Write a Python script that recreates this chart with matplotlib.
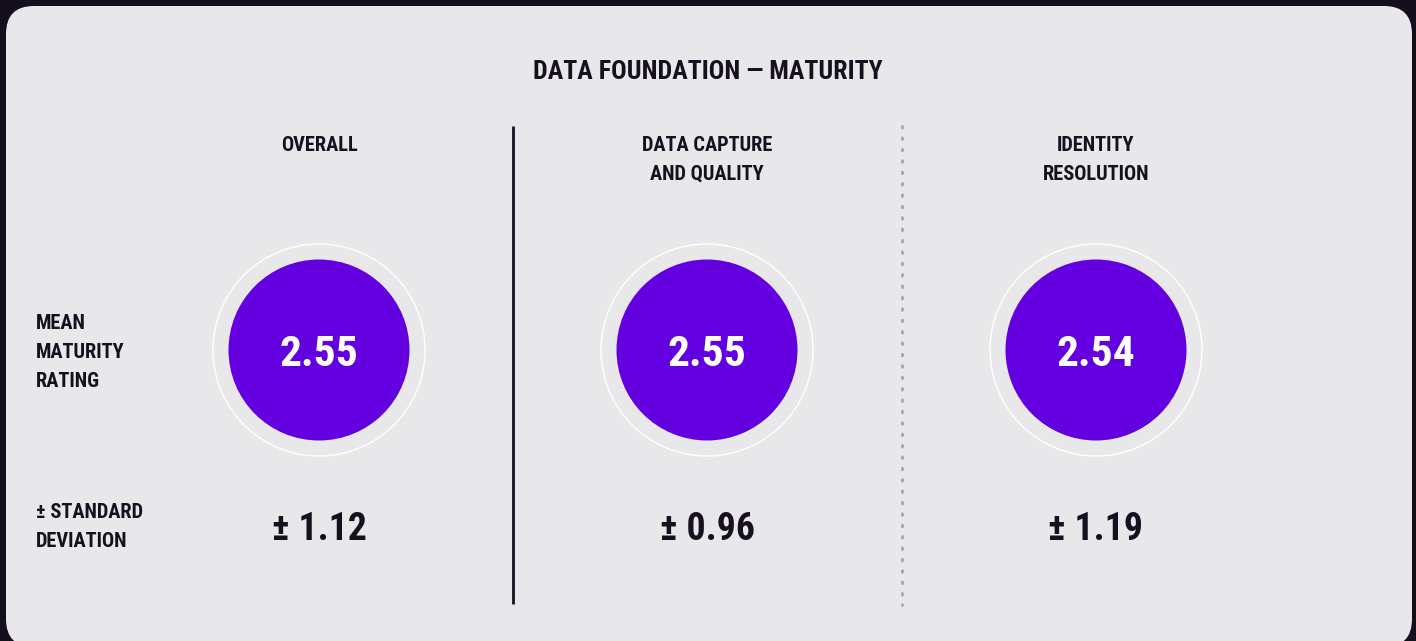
import matplotlib
matplotlib.use("Agg")
import matplotlib.pyplot as plt
from matplotlib.patches import FancyBboxPatch, Circle
from matplotlib import font_manager
from matplotlib.font_manager import FontProperties

# ---- data ----
title = "DATA FOUNDATION — MATURITY"
categories = ["OVERALL", "DATA CAPTURE\nAND QUALITY", "IDENTITY\nRESOLUTION"]
means = [2.55, 2.55, 2.54]
sds = [1.12, 0.96, 1.19]
row_labels = ["MEAN\nMATURITY\nRATING", "± STANDARD\nDEVIATION"]

# ---- style ----
BG = "#140e1d"
CARD = "#e8e8ea"
INK = "#17111f"
PURPLE = "#6400e0"
DOT = "#a3a3aa"


def _wnum(w):
    if isinstance(w, (int, float)):
        return w
    return font_manager.weight_dict.get(str(w).lower(), 400)


def pick_font():
    fl = font_manager.fontManager.ttflist
    def bold(f):
        return 600 <= _wnum(f.weight) <= 800 and f.style == "normal"
    for f in fl:
        if "oswald" in f.name.lower() and bold(f):
            return f.fname, f.name
    prefs = ["Roboto", "Noto Sans", "Open Sans", "DejaVu Sans", "Liberation Sans", "Lato", "Inter"]
    for p in prefs:
        for f in fl:
            fn = f.fname.lower()
            if f.name.startswith(p) and ("condensed" in fn or "narrow" in fn
                                         or "condensed" in f.name.lower()
                                         or "narrow" in f.name.lower()) \
                    and "extracondensed" not in fn.replace("-", "").replace("_", "") \
                    and "semicondensed" not in fn.replace("-", "").replace("_", "") \
                    and bold(f):
                return f.fname, f.name
    return None, "DejaVu Sans"


FPATH, FNAME = pick_font()


def fp():
    if FPATH:
        return FontProperties(fname=FPATH)
    return FontProperties(family="DejaVu Sans", weight="bold")


W, H = 1416, 641
fig = plt.figure(figsize=(W / 100, H / 100), dpi=100, facecolor=BG)
ax = fig.add_axes([0, 0, 1, 1])
ax.set_xlim(0, W)
ax.set_ylim(H, 0)
ax.axis("off")
renderer = fig.canvas.get_renderer()


def fit(sample, target_w):
    t = ax.text(0, 0, sample, fontproperties=fp(), fontsize=20)
    w = t.get_window_extent(renderer).width
    t.remove()
    return 20 * target_w / w


S_TITLE = fit(title, 350)
S_HEAD = fit("DATA CAPTURE", 131)
S_ROW = fit("MATURITY", 89)
S_VAL = fit("2.55", 79)
S_SD = fit("± 0.96", 95)


def txt(x, y, s, size, color=INK, ha="center", z=3):
    p = fp()
    p.set_size(size)
    ax.text(x, y, s, ha=ha, va="baseline", fontproperties=p, color=color, zorder=z)


card = FancyBboxPatch((6, 6), 1406, 641, boxstyle="round,pad=0,rounding_size=28",
                      facecolor=CARD, edgecolor="none", zorder=0)
ax.add_patch(card)

txt(708, 79, title, S_TITLE)

col_x = [319, 707, 1096]
line_gap = 29

for i, (cat, m, s) in enumerate(zip(categories, means, sds)):
    cx = col_x[i]
    for j, line in enumerate(cat.split("\n")):
        txt(cx, 151 + j * line_gap, line, S_HEAD)
    ax.add_patch(Circle((cx, 350), 106, facecolor="none", edgecolor="white",
                        linewidth=1.0, zorder=1))
    ax.add_patch(Circle((cx, 350), 90.5, facecolor=PURPLE, edgecolor="none", zorder=2))
    txt(cx, 366, f"{m:.2f}", S_VAL, color="white")
    txt(cx, 540, f"± {s:.2f}", S_SD)

for j, line in enumerate(row_labels[0].split("\n")):
    txt(36, 329 + j * line_gap, line, S_ROW, ha="left")
for j, line in enumerate(row_labels[1].split("\n")):
    txt(36, 518 + j * line_gap, line, S_ROW, ha="left")

ax.plot([513, 513], [126, 604], color=INK, linewidth=2, solid_capstyle="butt")
ax.plot([902, 902], [126, 605], color=DOT, linewidth=2, linestyle=(0, (0.6, 3.5)),
        dash_capstyle="round")

fig.savefig("out.png", dpi=100, facecolor=BG)
